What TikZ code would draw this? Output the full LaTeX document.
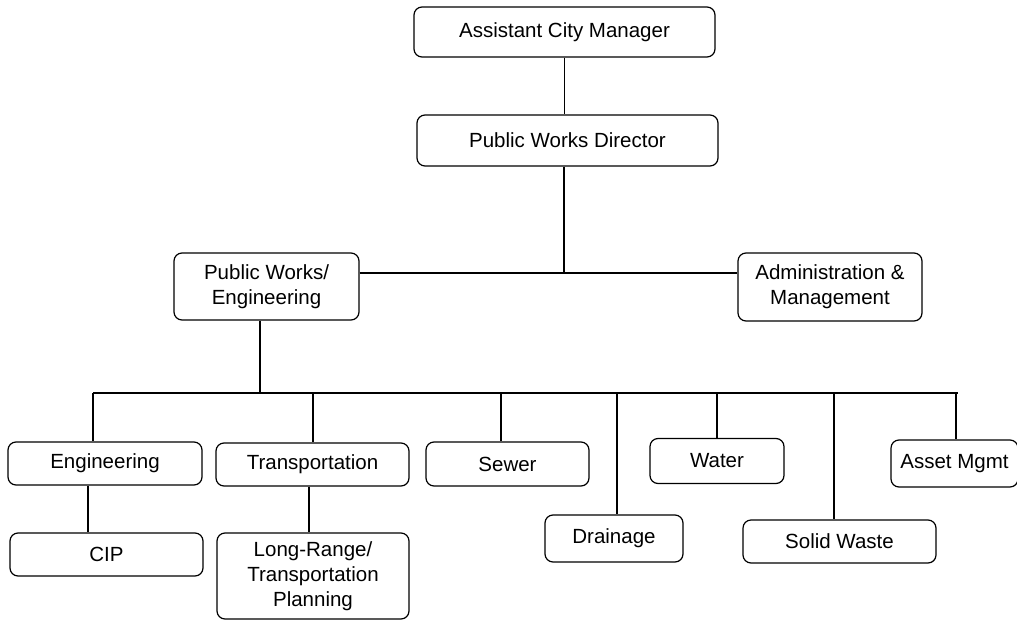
\documentclass[tikz,border=0pt]{standalone}
\usepackage{fontspec}
\setmainfont{Liberation Sans}
\begin{document}
\begin{tikzpicture}[x=1pt,y=-1pt,line width=1.2pt]

\tikzset{unit/.style={draw,rounded corners=8pt,align=center,inner sep=0pt,
	font=\fontsize{20.5}{25}\selectfont}}

\useasboundingbox (0,0) rectangle (1017,621);

\def\einheit#1#2#3#4#5#6{
\node[unit,minimum width=#4pt,minimum height=#5pt] (#1) at (#2,#3) {#6};
}

\einheit{acm}{564.5}{32}{301}{50}{Assistant City Manager}
\einheit{pwd}{567.5}{140.5}{301}{51}{Public Works Director}
\einheit{pwe}{266.5}{286.5}{185}{67}{Public Works/\\Engineering}
\einheit{adm}{830}{287}{184}{68}{Administration \&\\Management}

\einheit{eng}{105}{463.5}{194}{43}{Engineering}
\einheit{trn}{312.5}{464.5}{193}{43}{Transportation}
\einheit{sew}{507.5}{464}{163}{44}{Sewer}
\einheit{wat}{717}{461}{134}{45}{Water}
\einheit{ast}{954.5}{463.5}{127}{47}{Asset Mgmt}

\einheit{cip}{106.5}{554.5}{193}{43}{CIP}
\einheit{lrt}{313}{576}{192}{86}{Long-Range/\\Transportation\\Planning}
\einheit{drn}{614}{538.5}{138}{47}{Drainage}
\einheit{sld}{839.5}{541.5}{193}{43}{Solid Waste}

% Verbindungen
\coordinate (top) at (564,273);
\coordinate (bus) at (260,393);

\draw (acm.south) -- (acm.south |- pwd.north);
\draw (top |- pwd.south) -- (top);
\draw (pwe.east |- top) -- (adm.west |- top);
\draw (bus |- pwe.south) -- (bus);
\draw (93,0 |- bus) -- (958,0 |- bus);

\def\stiel#1#2{
\draw (#1,0 |- bus) -- (#1,0 |- #2.north);
}

\stiel{93}{eng}
\stiel{313}{trn}
\stiel{501}{sew}
\stiel{617}{drn}
\stiel{717}{wat}
\stiel{834}{sld}
\stiel{956}{ast}

\draw (88,0 |- eng.south) -- (88,0 |- cip.north);
\draw (309,0 |- trn.south) -- (309,0 |- lrt.north);

\end{tikzpicture}
\end{document}
